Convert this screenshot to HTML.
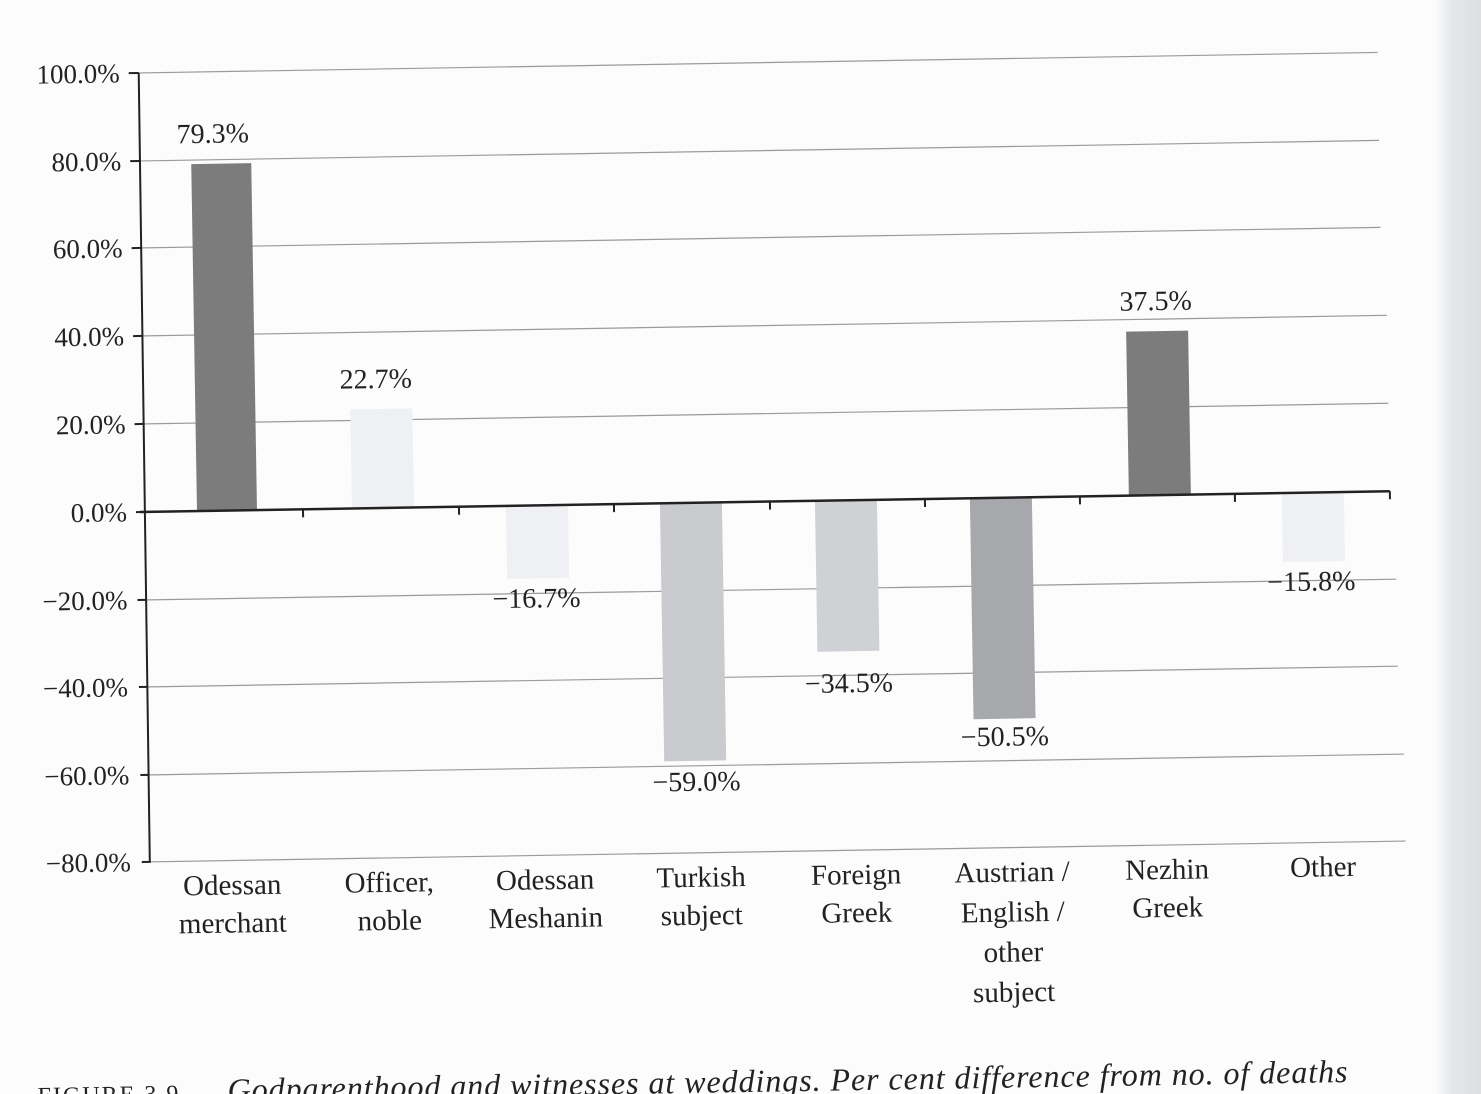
<!DOCTYPE html>
<html><head><meta charset="utf-8"><style>
html,body{margin:0;padding:0;background:#fcfcfc;width:1481px;height:1094px;overflow:hidden}
svg{display:block}
text{font-family:"Liberation Serif",serif;fill:#222}
</style></head><body>
<svg width="1481" height="1094" viewBox="0 0 1481 1094">
<defs><linearGradient id="edge" x1="0" x2="1"><stop offset="0" stop-color="#fcfcfc"/><stop offset="0.4" stop-color="#e4e6e9"/><stop offset="1" stop-color="#dcdfe2"/></linearGradient></defs>
<rect x="1435" y="0" width="46" height="1094" fill="url(#edge)"/>
<g transform="rotate(-0.95 140 512)">
<g stroke="#9a9a9a" stroke-width="1.2">
<line x1="140" y1="73" x2="1385" y2="73"/>
<line x1="140" y1="161" x2="1385" y2="161"/>
<line x1="140" y1="248" x2="1385" y2="248"/>
<line x1="140" y1="336" x2="1390" y2="336"/>
<line x1="140" y1="424" x2="1390" y2="424"/>
<line x1="140" y1="600" x2="1395" y2="600"/>
<line x1="140" y1="687" x2="1395" y2="687"/>
<line x1="140" y1="775" x2="1400" y2="775"/>
<line x1="140" y1="862" x2="1400" y2="862"/>
</g>
<line x1="146" y1="73" x2="144" y2="862" stroke="#222" stroke-width="2"/>
<g stroke="#222" stroke-width="2">
<line x1="136" y1="73" x2="146" y2="73"/><line x1="136" y1="161" x2="146" y2="161"/><line x1="136" y1="248" x2="146" y2="248"/><line x1="136" y1="336" x2="146" y2="336"/><line x1="136" y1="424" x2="146" y2="424"/><line x1="136" y1="512" x2="146" y2="512"/><line x1="136" y1="600" x2="145" y2="600"/><line x1="136" y1="687" x2="145" y2="687"/><line x1="136" y1="775" x2="145" y2="775"/><line x1="136" y1="862" x2="145" y2="862"/>
</g>
<rect x="197" y="165" width="60" height="347" fill="#7c7c7c"/>
<rect x="352" y="413" width="62" height="99" fill="#eef0f4"/>
<rect x="506" y="512" width="62" height="73" fill="#eef0f4"/>
<rect x="660" y="512" width="62" height="258" fill="#c9cbcf"/>
<rect x="815" y="512" width="62" height="151" fill="#cfd1d5"/>
<rect x="970" y="512" width="62" height="221" fill="#a6a8ab"/>
<rect x="1129" y="348" width="62" height="164" fill="#7c7c7c"/>
<rect x="1282" y="512" width="62" height="69" fill="#eef0f4"/>
<line x1="140" y1="512" x2="1390" y2="512" stroke="#222" stroke-width="2.5"/>
<g stroke="#222" stroke-width="2">
<line x1="303" y1="512" x2="303" y2="520"/><line x1="459" y1="512" x2="459" y2="520"/><line x1="614" y1="512" x2="614" y2="520"/><line x1="770" y1="512" x2="770" y2="520"/><line x1="925" y1="512" x2="925" y2="520"/><line x1="1080" y1="512" x2="1080" y2="520"/><line x1="1235" y1="512" x2="1235" y2="520"/><line x1="1390" y1="512" x2="1390" y2="520"/>
</g>
<g font-size="27" text-anchor="end">
<text x="127" y="82">100.0%</text><text x="127" y="170">80.0%</text><text x="127" y="257">60.0%</text><text x="127" y="345">40.0%</text><text x="127" y="433">20.0%</text><text x="127" y="521">0.0%</text><text x="126" y="609">−20.0%</text><text x="125" y="696">−40.0%</text><text x="125" y="784">−60.0%</text><text x="125" y="871">−80.0%</text>
</g>
<g font-size="28" text-anchor="middle">
<text x="219" y="144">79.3%</text><text x="378" y="392">22.7%</text><text x="535" y="614">−16.7%</text><text x="692" y="800">−59.0%</text><text x="846" y="704">−34.5%</text><text x="1001" y="760">−50.5%</text><text x="1159" y="327">37.5%</text><text x="1310" y="610">−15.8%</text>
</g>
<g font-size="29" text-anchor="middle">
<text x="226" y="896">Odessan</text><text x="226" y="934">merchant</text>
<text x="383" y="896">Officer,</text><text x="383" y="934">noble</text>
<text x="539" y="896">Odessan</text><text x="539" y="934">Meshanin</text>
<text x="695" y="896">Turkish</text><text x="695" y="934">subject</text>
<text x="850" y="896">Foreign</text><text x="850" y="934">Greek</text>
<text x="1006" y="896">Austrian /</text><text x="1006" y="936">English /</text><text x="1006" y="976">other</text><text x="1006" y="1016">subject</text>
<text x="1161" y="896">Nezhin</text><text x="1161" y="934">Greek</text>
<text x="1317" y="896">Other</text>
</g>
<text x="28" y="1102" font-size="24" letter-spacing="2">FIGURE 3.9</text>
<text x="218" y="1102" font-size="32" font-style="italic" textLength="1120">Godparenthood and witnesses at weddings. Per cent difference from no. of deaths</text>
</g>
</svg>
</body></html>
